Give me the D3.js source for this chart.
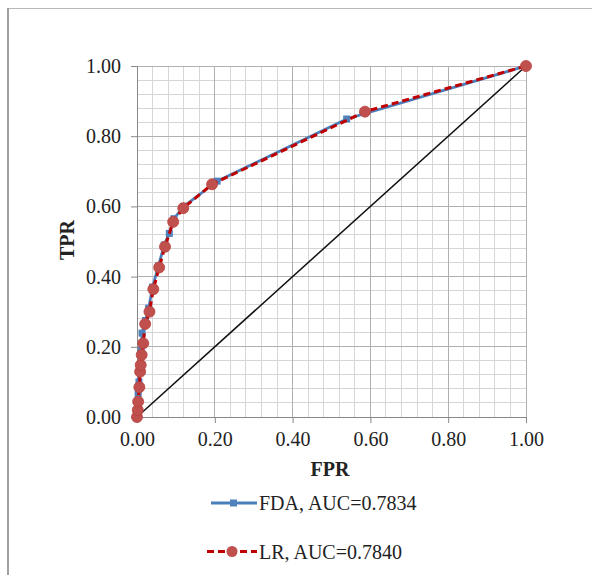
<!DOCTYPE html>
<html><head><meta charset="utf-8">
<script src="https://cdnjs.cloudflare.com/ajax/libs/d3/7.8.5/d3.min.js"></script>
<style>
body{margin:0;background:#fff;}
svg text{font-family:"Liberation Serif","Times New Roman",serif;fill:#222;}
</style></head><body>
<svg id="c" width="592" height="575"></svg>
<script>
const fdaFPR = [0,0.002,0.003,0.005,0.008,0.011,0.013,0.022,0.030,0.040,0.055,0.070,0.083,0.095,0.120,0.206,0.539,1];
const fdaTPR = [0,0.025,0.067,0.100,0.140,0.190,0.239,0.275,0.310,0.370,0.430,0.490,0.523,0.565,0.600,0.672,0.849,1];
const lrFPR = [0,0.002,0.003,0.006,0.008,0.0095,0.012,0.016,0.021,0.032,0.042,0.057,0.072,0.093,0.119,0.193,0.586,1];
const lrTPR = [0,0.020,0.044,0.085,0.129,0.148,0.177,0.210,0.265,0.300,0.364,0.426,0.485,0.556,0.595,0.663,0.870,1];
const diagFPR = [0,1];
const diagTPR = [0,1];
const tickVals = [0,0.2,0.4,0.6,0.8,1.0];
const minorVals = d3.range(0,1.0001,0.04);
const legendLabels = ["FDA, AUC=0.7834","LR, AUC=0.7840"];
const xTitle = "FPR", yTitle = "TPR";

const svg = d3.select("#c");
// outer frame
svg.append("rect").attr("x",7.5).attr("y",8.5).attr("width",600).attr("height",600)
  .attr("fill","#fff").attr("stroke","#b8b8b8").attr("stroke-width",1);
svg.append("line").attr("x1",8).attr("x2",8).attr("y1",8).attr("y2",575).attr("stroke","#a0a0a0").attr("stroke-width",2);

const x = d3.scaleLinear().domain([0,1]).range([137,526]);
const y = d3.scaleLinear().domain([0,1]).range([417,66]);

const g = svg.append("g");
// minor grid
minorVals.forEach(v=>{
  g.append("line").attr("x1",x(v)).attr("x2",x(v)).attr("y1",y(0)).attr("y2",y(1))
    .attr("stroke","#d6d6d6").attr("stroke-width",1).attr("shape-rendering","crispEdges");
  g.append("line").attr("y1",y(v)).attr("y2",y(v)).attr("x1",x(0)).attr("x2",x(1))
    .attr("stroke","#d6d6d6").attr("stroke-width",1).attr("shape-rendering","crispEdges");
});
tickVals.forEach(v=>{
  g.append("line").attr("x1",x(v)).attr("x2",x(v)).attr("y1",y(0)).attr("y2",y(1))
    .attr("stroke","#b0b0b0").attr("stroke-width",1).attr("shape-rendering","crispEdges");
  g.append("line").attr("y1",y(v)).attr("y2",y(v)).attr("x1",x(0)).attr("x2",x(1))
    .attr("stroke","#b0b0b0").attr("stroke-width",1).attr("shape-rendering","crispEdges");
});

// axes
const fmt = d3.format(".2f");
const xAxis = d3.axisBottom(x).tickValues(tickVals).tickFormat(fmt).tickSize(6).tickPadding(9);
const yAxis = d3.axisLeft(y).tickValues(tickVals).tickFormat(fmt).tickSize(6).tickPadding(10);
const gx = svg.append("g").attr("transform",`translate(0,${y(0)})`).call(xAxis);
const gy = svg.append("g").attr("transform",`translate(${x(0)},0)`).call(yAxis);
[gx,gy].forEach(a=>{
  a.select(".domain").attr("stroke","#888");
  a.selectAll(".tick line").attr("stroke","#888");
  a.selectAll("text").attr("font-size",20).attr("fill","#222").attr("font-family","Liberation Serif, serif");
});

svg.append("text").attr("x",330).attr("y",476).attr("text-anchor","middle")
  .attr("font-size",20).attr("font-weight","bold").text(xTitle);
svg.append("text").attr("transform","translate(74,240) rotate(-90)").attr("text-anchor","middle")
  .attr("font-size",20).attr("font-weight","bold").text(yTitle);

// diagonal
const line = d3.line().x(d=>x(d[0])).y(d=>y(d[1]));
svg.append("path").datum(d3.zip(diagFPR,diagTPR)).attr("d",line)
  .attr("fill","none").attr("stroke","#111").attr("stroke-width",1.5);

// FDA
const fda = d3.zip(fdaFPR,fdaTPR);
const lr = d3.zip(lrFPR,lrTPR);
const blue = "#4a7ebb", blueM="#4f81bd", redL="#c00000", redM="#c0504d";
svg.append("path").datum(fda).attr("d",line).attr("fill","none").attr("stroke",blue).attr("stroke-width",2.8);
svg.selectAll(".fm").data(fda).enter().append("rect")
  .attr("x",d=>x(d[0])-3.5).attr("y",d=>y(d[1])-3.5).attr("width",7).attr("height",7).attr("fill",blueM);
// LR
svg.append("path").datum(lr).attr("d",line).attr("fill","none").attr("stroke",redL)
  .attr("stroke-width",3).attr("stroke-dasharray","7,4");
svg.selectAll(".lm").data(lr).enter().append("circle")
  .attr("cx",d=>x(d[0])).attr("cy",d=>y(d[1])).attr("r",5.5).attr("fill",redM).attr("stroke","#b8403d").attr("stroke-width",0.8);

// legend
const lg = svg.append("g");
lg.append("line").attr("x1",211).attr("x2",257).attr("y1",503).attr("y2",503).attr("stroke",blue).attr("stroke-width",2.8);
lg.append("rect").attr("x",230).attr("y",499.5).attr("width",7).attr("height",7).attr("fill",blueM);
lg.append("text").attr("x",259).attr("y",510).attr("font-size",20).text(legendLabels[0]);
lg.append("line").attr("x1",207).attr("x2",257).attr("y1",551.5).attr("y2",551.5).attr("stroke",redL)
  .attr("stroke-width",3).attr("stroke-dasharray","7,4");
lg.append("circle").attr("cx",232).attr("cy",551.5).attr("r",5.5).attr("fill",redM);
lg.append("text").attr("x",259).attr("y",559).attr("font-size",20).text(legendLabels[1]);
</script>
</body></html>
